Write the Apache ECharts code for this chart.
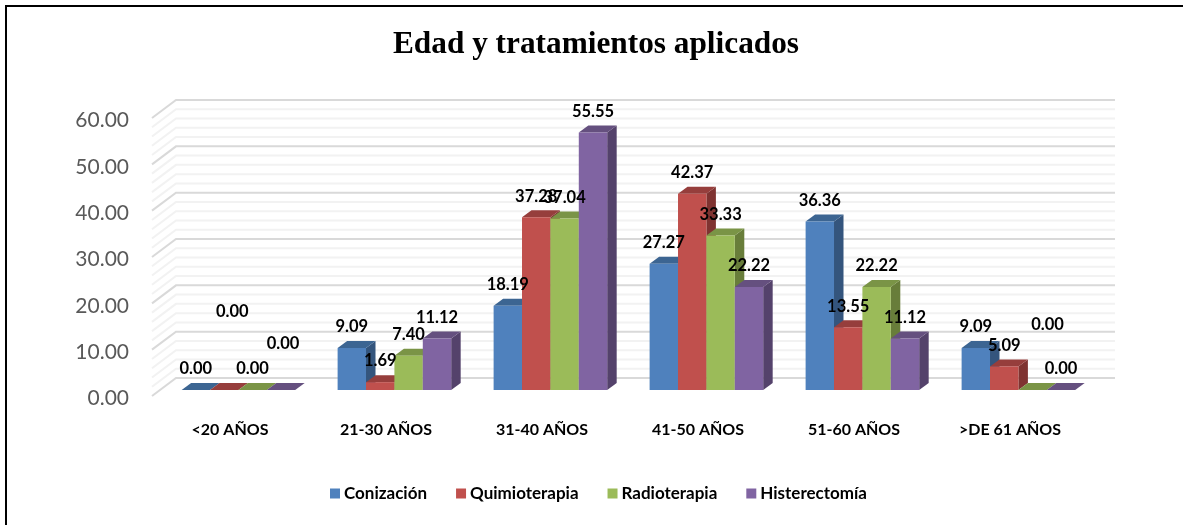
<!DOCTYPE html>
<html><head><meta charset="utf-8">
<style>html,body{margin:0;padding:0;background:#fff}#c{width:1183px;height:525px}</style>
<script src="https://cdn.jsdelivr.net/npm/echarts@6/dist/echarts.min.js"></script>
</head><body><div id="c"></div>
<script>
var categories = ['<20 AÑOS','21-30 AÑOS','31-40 AÑOS','41-50 AÑOS','51-60 AÑOS','>DE 61 AÑOS'];
var conizacion = [0.00, 9.09, 18.19, 27.27, 36.36, 9.09];
var quimioterapia = [0.00, 1.69, 37.28, 42.37, 13.55, 5.09];
var radioterapia = [0.00, 7.40, 37.04, 33.33, 22.22, 0.00];
var histerectomia = [0.00, 11.12, 55.55, 22.22, 11.12, 0.00];
var gridValues = [0,2,4,6,8,10,12,14,16,18,20,22,24,26,28,30,32,34,36,38,40,42,44,46,48,50,52,54,56,58,60];

var FONT = 'Lato, "Open Sans", sans-serif';
var WALL_DX = 24, WALL_DY = -18, PLANE_DX = 8.4, PLANE_DY = -6, BAR_DX = 9.5, BAR_DY = -7, BAR_RATIO = 0.182;
// displaced labels of the original: [series, category, dx, dy]
var labelShift = [[1,0,8,-57],[3,0,2,-25],[2,5,15,-44]];

var styles = [
  {name:'Conización', front:'#4F81BD', top:'#3C6592', side:'#34557D', values:conizacion},
  {name:'Quimioterapia', front:'#C0504D', top:'#963E3C', side:'#7F3331', values:quimioterapia},
  {name:'Radioterapia', front:'#9BBB59', top:'#7A9446', side:'#687D3A', values:radioterapia},
  {name:'Histerectomía', front:'#8064A2', top:'#65507F', side:'#54426B', values:histerectomia}
];

function barSeries(st, s){
  return {
    type:'custom', name:st.name, coordinateSystem:'cartesian2d',
    itemStyle:{color:st.front}, clip:false, silent:true,
    encode:{x:0,y:1},
    data:st.values.map(function(v,i){return [i,v];}),
    renderItem:function(params, api){
      var i = api.value(0), v = api.value(1);
      var top = api.coord([i,v]), base = api.coord([i,0]);
      var w = api.size([1,0])[0]*BAR_RATIO;
      var x0 = top[0]+PLANE_DX+(s-2)*w, x1 = x0+w;
      var yT = top[1]+PLANE_DY, yB = base[1]+PLANE_DY;
      var dx = 0, dy = -21;
      labelShift.forEach(function(l){ if(l[0]===s && l[1]===i){dx=l[2];dy=-21+l[3];} });
      var z = s+1;
      return {type:'group', children:[
        {type:'polygon', z2:z, shape:{points:[[x1,yT],[x1+BAR_DX,yT+BAR_DY],[x1+BAR_DX,yB+BAR_DY],[x1,yB]]}, style:{fill:st.side}},
        {type:'polygon', z2:z, shape:{points:[[x0,yT],[x0+BAR_DX,yT+BAR_DY],[x1+BAR_DX,yT+BAR_DY],[x1,yT]]}, style:{fill:st.top}},
        {type:'rect', z2:z, shape:{x:x0,y:yT,width:w,height:yB-yT}, style:{fill:st.front}},
        {type:'text', z2:100, style:{x:(x0+x1)/2+dx, y:yT+dy, text:v.toFixed(2), align:'center', verticalAlign:'middle', font:'bold 16.5px '+FONT, fill:'#000'}}
      ]};
    }
  };
}

var wallSeries = {
  type:'custom', coordinateSystem:'cartesian2d', silent:true, z:1, clip:false,
  encode:{y:0},
  data:gridValues.map(function(v){return [v];}),
  renderItem:function(params, api){
    var v = api.value(0);
    var y = api.coord([0,v])[1];
    var xL = params.coordSys.x, xR = xL+params.coordSys.width+3;
    var major = v%10===0;
    return {type:'polyline', z2:major?2:1,
      shape:{points:[[xL,y],[xL+WALL_DX,y+WALL_DY],[xR+WALL_DX,y+WALL_DY]]},
      style:{fill:null, stroke:major?'#D9D9D9':'#F2F2F2', lineWidth:2}};
  }
};

var chart = echarts.init(document.getElementById('c'),null,{renderer:'canvas'});
chart.setOption({
  animation:false,
  backgroundColor:'#fff',
  title:{text:'Edad y tratamientos aplicados', left:591, top:24, textAlign:'center',
    textStyle:{fontFamily:'"Liberation Serif", serif', fontWeight:'bold', fontSize:31.3, color:'#000'}},
  legend:{left:325, top:480, itemWidth:10, itemHeight:10, itemGap:29, icon:'rect',
    textStyle:{fontFamily:FONT, fontWeight:'bold', fontSize:17, color:'#000', padding:[0,0,0,-1]},
    data:styles.map(function(s){return s.name;})},
  grid:{left:152, top:118, width:936, height:278, containLabel:false},
  xAxis:{type:'category', data:categories, axisLine:{show:false}, axisTick:{show:false}, splitLine:{show:false},
    axisLabel:{interval:0, margin:26, fontFamily:FONT, fontWeight:'bold', fontSize:16, color:'#000'}},
  yAxis:{type:'value', min:0, max:60, interval:10, axisLine:{show:false}, axisTick:{show:false}, splitLine:{show:false},
    axisLabel:{margin:23, verticalAlign:'top', lineHeight:5, fontFamily:FONT, fontSize:21, color:'#595959', formatter:function(v){return v.toFixed(2);}}},
  graphic:[{type:'polyline', silent:true, shape:{points:[[6,525],[6,6],[1183,6]]}, style:{fill:null, stroke:'#000', lineWidth:2}}],
  series:[wallSeries].concat(styles.map(barSeries))
});
</script></body></html>
